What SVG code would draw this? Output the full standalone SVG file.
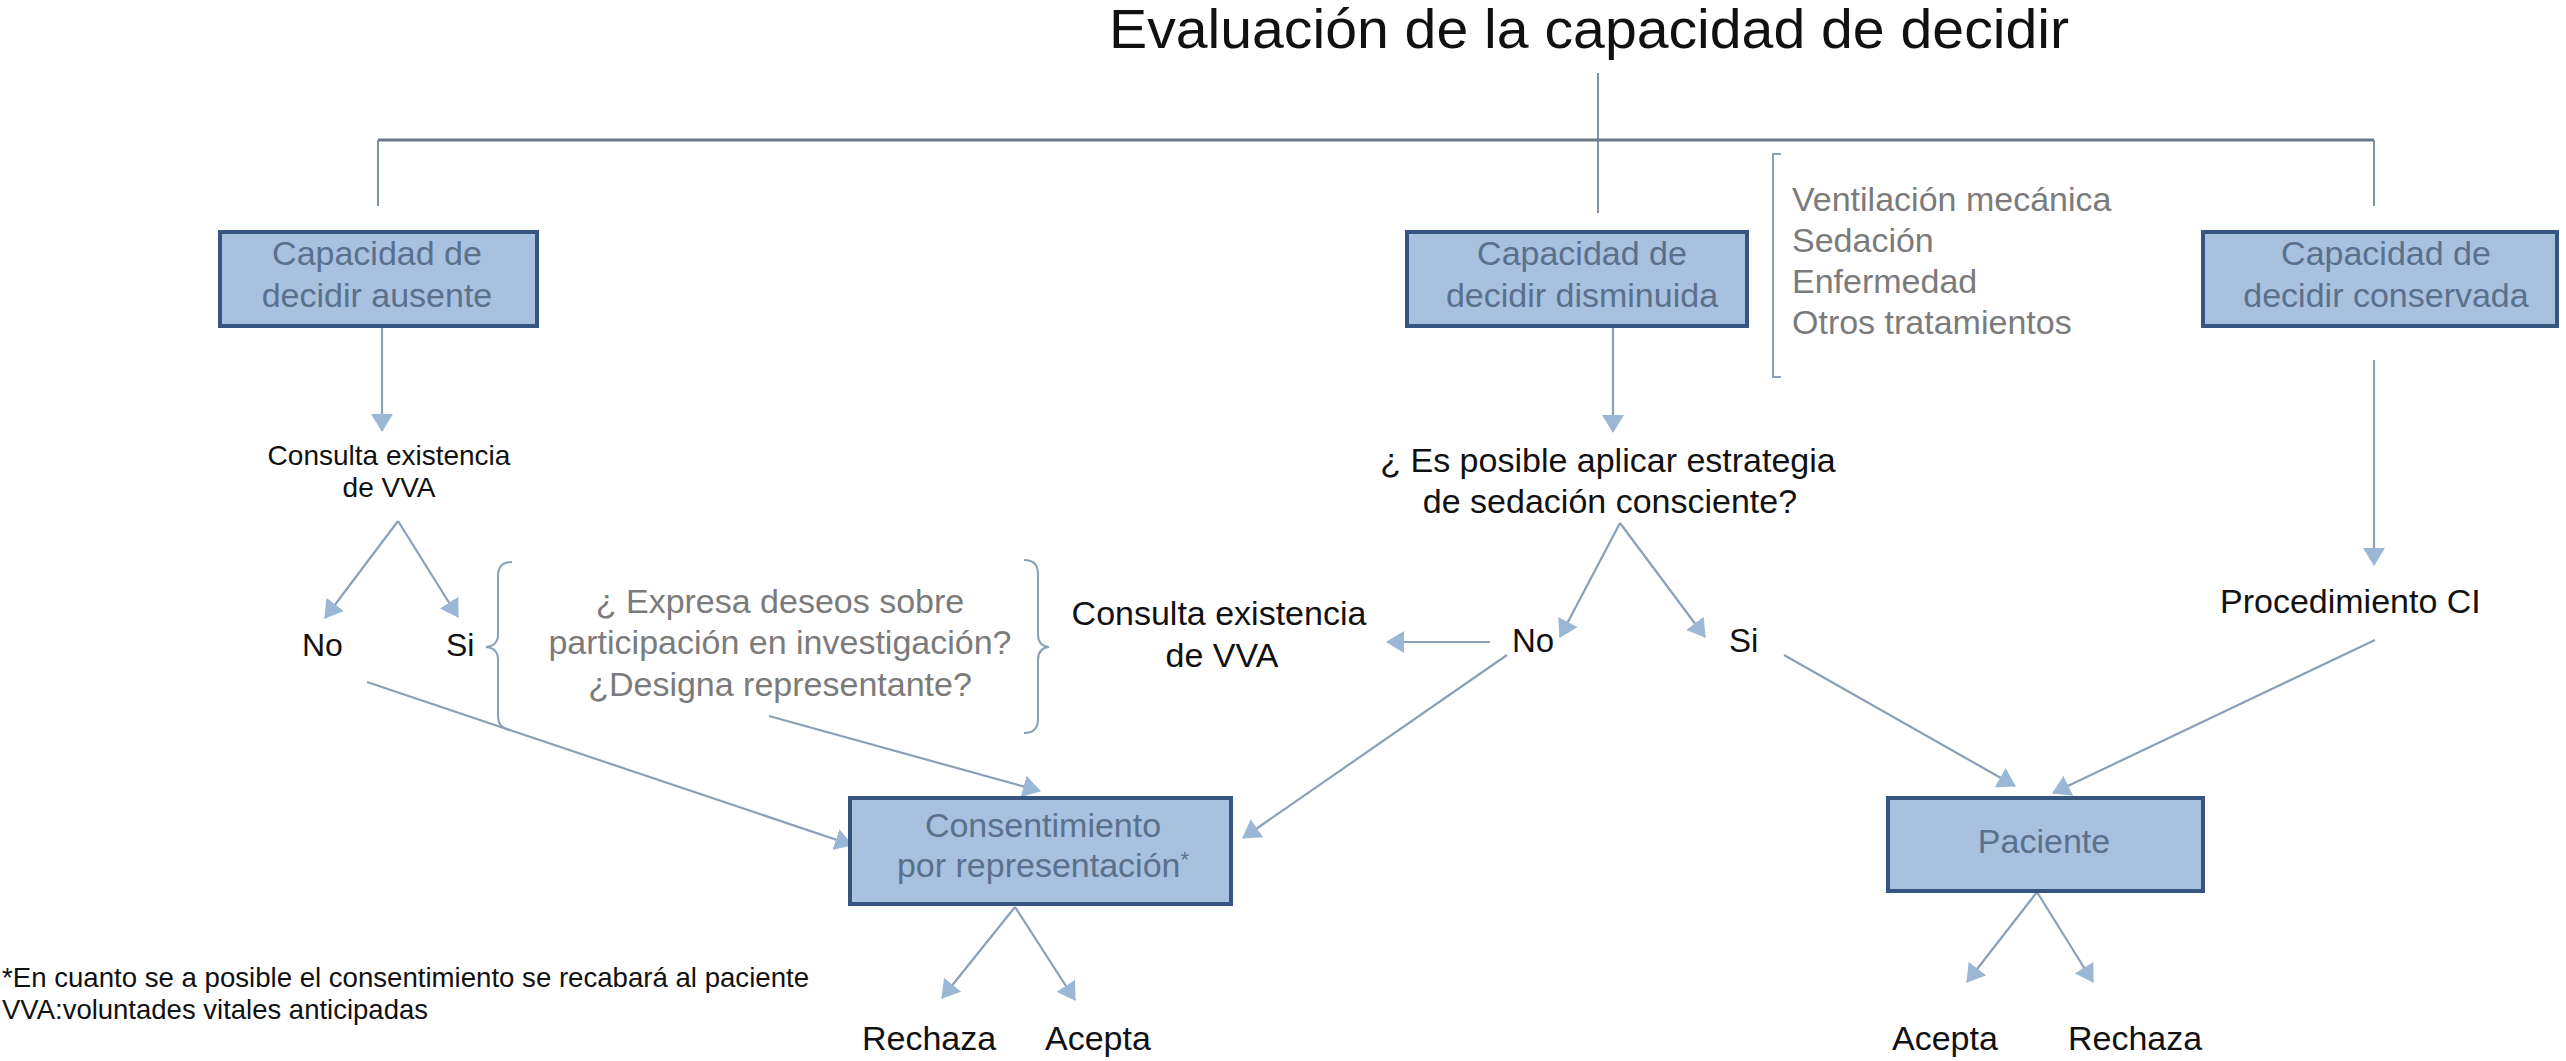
<svg xmlns="http://www.w3.org/2000/svg" width="2566" height="1061" viewBox="0 0 2566 1061">
<style>
text{font-family:"Liberation Sans",Arial,Helvetica,sans-serif}
.title{font-size:56px;fill:#111}
.box{fill:#a7c1df;stroke:#36557f;stroke-width:4}
.bt{font-size:34px;fill:#5b708b;text-anchor:middle}
.lbl{font-size:34px;fill:#111}
.lblc{font-size:34px;fill:#111;text-anchor:middle}
.gray{font-size:34px;fill:#7b7b7b}
.grayc{font-size:34px;fill:#7b7b7b;text-anchor:middle}
.note{font-size:27.5px;fill:#111}
.tree{fill:none;stroke:#7f92a6;stroke-width:2}
.treeh{fill:none;stroke:#6c7a89;stroke-width:3}
.con{fill:none;stroke:#8aa0b8;stroke-width:2.2}
.arr{fill:none;stroke:#8aa0b8;stroke-width:2.2;marker-end:url(#ah)}
.brace{fill:none;stroke:#8aa0b8;stroke-width:2}
</style>
<defs>
<marker id="ah" viewBox="0 0 18 22" refX="17" refY="11" markerWidth="18" markerHeight="22" markerUnits="userSpaceOnUse" orient="auto">
<path d="M0,0 L18,11 L0,22 z" fill="#9ab8d5"/>
</marker>
</defs>
<rect width="2566" height="1061" fill="#fff"/>

<g id="title"><text class="title" x="1589" y="48" text-anchor="middle" textLength="960" lengthAdjust="spacingAndGlyphs">Evaluación de la capacidad de decidir</text></g>

<g id="connectors">
<path class="tree" d="M1598,73 V213"/>
<path class="treeh" d="M378,140 H2374"/>
<path class="tree" d="M378,140 V206"/>
<path class="tree" d="M2374,140 V206"/>
<path class="arr" d="M382,327 V431"/>
<path class="arr" d="M1613,327 V432"/>
<path class="arr" d="M2374,360 V565"/>
<path class="arr" d="M398,521 L325,618"/>
<path class="arr" d="M398,521 L458,617"/>
<path class="arr" d="M367,682 L852,845"/>
<path class="arr" d="M769,716 L1040,791"/>
<path class="arr" d="M1620,523 L1560,637"/>
<path class="arr" d="M1620,523 L1705,637"/>
<path class="arr" d="M1490,642 L1387,642"/>
<path class="arr" d="M1507,655 L1243,838"/>
<path class="arr" d="M1784,655 L2015,786"/>
<path class="arr" d="M2375,640 L2053,793"/>
<path class="arr" d="M1015,907 L942,998"/>
<path class="arr" d="M1015,907 L1075,1000"/>
<path class="arr" d="M2037,892 L1967,982"/>
<path class="arr" d="M2037,892 L2093,982"/>
</g>

<g id="n-ausente">
<rect class="box" x="220" y="232" width="317" height="94"/>
<text class="bt" x="377" y="265">Capacidad de</text>
<text class="bt" x="377" y="307">decidir ausente</text>
</g>
<g id="n-disminuida">
<rect class="box" x="1407" y="232" width="340" height="94"/>
<text class="bt" x="1582" y="265">Capacidad de</text>
<text class="bt" x="1582" y="307">decidir disminuida</text>
</g>
<g id="n-conservada">
<rect class="box" x="2203" y="232" width="354" height="94"/>
<text class="bt" x="2386" y="265">Capacidad de</text>
<text class="bt" x="2386" y="307">decidir conservada</text>
</g>

<g id="n-factores">
<path class="brace" d="M1781,154 H1773 V377 H1781" stroke="#7d8da0"/>
<text class="gray" x="1792" y="211">Ventilación mecánica</text>
<text class="gray" x="1792" y="252">Sedación</text>
<text class="gray" x="1792" y="293">Enfermedad</text>
<text class="gray" x="1792" y="334">Otros tratamientos</text>
</g>

<g id="n-consulta1">
<text x="389" y="465" style="font-size:28px;fill:#111;text-anchor:middle">Consulta existencia</text>
<text x="389" y="497" style="font-size:28px;fill:#111;text-anchor:middle">de VVA</text>
</g>
<g id="n-no1"><text class="lbl" x="302" y="656" style="font-size:32px">No</text></g>
<g id="n-si1"><text class="lbl" x="446" y="656" style="font-size:32px">Si</text></g>

<g id="n-preguntas">
<path class="brace" d="M512,562 Q498,562 498,576 V634 Q498,646 486,647 Q498,648 498,660 V716 Q498,728 510,730"/>
<path class="brace" d="M1024,560 Q1038,560 1038,574 V634 Q1038,646 1049,647 Q1038,648 1038,660 V719 Q1038,733 1024,733"/>
<text class="grayc" x="780" y="613">¿ Expresa deseos sobre</text>
<text class="grayc" x="780" y="654">participación en investigación?</text>
<text class="grayc" x="780" y="696">¿Designa representante?</text>
</g>

<g id="n-consulta2">
<text class="lblc" x="1219" y="625">Consulta existencia</text>
<text class="lblc" x="1222" y="667">de VVA</text>
</g>

<g id="n-sedacion">
<text class="lblc" x="1608" y="472">¿ Es posible aplicar estrategia</text>
<text class="lblc" x="1610" y="513">de sedación consciente?</text>
</g>
<g id="n-no2"><text class="lbl" x="1512" y="652" style="font-size:33px">No</text></g>
<g id="n-si2"><text class="lbl" x="1729" y="652" style="font-size:33px">Si</text></g>

<g id="n-procedimiento"><text class="lbl" x="2220" y="613">Procedimiento CI</text></g>

<g id="n-consentimiento">
<rect class="box" x="850" y="798" width="381" height="106"/>
<text class="bt" x="1043" y="837">Consentimiento</text>
<text class="bt" x="1043" y="877">por representación<tspan style="font-size:22px" dy="-10">*</tspan></text>
</g>
<g id="n-rechaza1"><text class="lbl" x="862" y="1050">Rechaza</text></g>
<g id="n-acepta1"><text class="lbl" x="1045" y="1050">Acepta</text></g>

<g id="n-paciente">
<rect class="box" x="1888" y="798" width="315" height="93"/>
<text class="bt" x="2044" y="853">Paciente</text>
</g>
<g id="n-acepta2"><text class="lbl" x="1892" y="1050">Acepta</text></g>
<g id="n-rechaza2"><text class="lbl" x="2068" y="1050">Rechaza</text></g>

<g id="notas">
<text class="note" x="2" y="987" textLength="807" lengthAdjust="spacingAndGlyphs">*En cuanto se a posible el consentimiento se recabará al paciente</text>
<text class="note" x="2" y="1019">VVA:voluntades vitales anticipadas</text>
</g>
</svg>
